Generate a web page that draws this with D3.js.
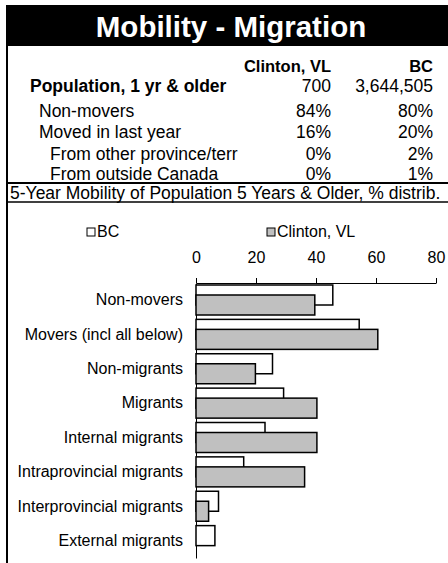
<!doctype html>
<html>
  <head>
    <script src="https://cdnjs.cloudflare.com/ajax/libs/d3/7.8.5/d3.min.js"></script>
    <style>
      body { margin: 0; background: #fff; }
      text { font-family: "Liberation Sans", Arial, sans-serif; }
    </style>
  </head>
  <body>
    <svg></svg>
    <script>
      var width = 448,
          height = 563;

      // table data
      var tableCols = ["Clinton, VL", "BC"];
      var tableRows = ["Population, 1 yr & older", "Non-movers", "Moved in last year", "From other province/terr", "From outside Canada"];
      var clintonTable = ["700", "84%", "16%", "0%", "0%"];
      var bcTable = ["3,644,505", "80%", "20%", "2%", "1%"];

      // chart data
      var categories = ["Non-movers", "Movers (incl all below)", "Non-migrants", "Migrants", "Internal migrants", "Intraprovincial migrants", "Interprovincial migrants", "External migrants"];
      var bcValues = [45.6, 54.4, 25.5, 29.2, 23.0, 15.9, 7.5, 6.3];
      var clintonValues = [39.6, 60.6, 19.8, 40.3, 40.3, 36.2, 4.2, 0];
      var xTicks = [0, 20, 40, 60, 80];

      var svg = d3.select("svg").attr("width", width).attr("height", height);

      // title
      svg.append("rect").attr("x", 6).attr("y", 5).attr("width", 442).attr("height", 41).attr("fill", "#000");
      svg.append("text").attr("x", 231).attr("y", 37).attr("text-anchor", "middle")
        .attr("fill", "#fff").attr("font-weight", "bold").attr("font-size", "29.5px")
        .text("Mobility - Migration");

      // borders
      svg.append("line").attr("x1", 7).attr("x2", 7).attr("y1", 46).attr("y2", height)
        .attr("stroke", "#000").attr("stroke-width", 2);
      svg.append("line").attr("x1", 6).attr("x2", 448).attr("y1", 183).attr("y2", 183)
        .attr("stroke", "#000").attr("stroke-width", 2);
      svg.append("line").attr("x1", 6).attr("x2", 448).attr("y1", 202).attr("y2", 202)
        .attr("stroke", "#000").attr("stroke-width", 1.5);

      // table
      var colX = [331, 433];
      var rowY = [92, 117, 138, 160, 180];
      var rowIndent = [30, 39, 39, 50, 50];
      svg.selectAll("text.colhead").data(tableCols).enter().append("text")
        .attr("class", "colhead")
        .attr("x", (d, i) => colX[i]).attr("y", 72)
        .attr("text-anchor", "end").attr("font-weight", "bold").attr("font-size", "16.5px")
        .text(d => d);
      svg.selectAll("text.rowlab").data(tableRows).enter().append("text")
        .attr("class", "rowlab")
        .attr("x", (d, i) => rowIndent[i]).attr("y", (d, i) => rowY[i])
        .attr("font-weight", (d, i) => i == 0 ? "bold" : "normal").attr("font-size", "17.5px")
        .text(d => d);
      [clintonTable, bcTable].forEach(function(col, c) {
        svg.selectAll("text.val" + c).data(col).enter().append("text")
          .attr("class", "val" + c)
          .attr("x", colX[c]).attr("y", (d, i) => rowY[i])
          .attr("text-anchor", "end").attr("font-size", "17.5px")
          .text(d => d);
      });

      // subtitle
      svg.append("text").attr("x", 10).attr("y", 199).attr("font-size", "17.5px")
        .text("5-Year Mobility of Population 5 Years & Older, % distrib.");

      // chart
      var x = d3.scaleLinear().domain([0, 80]).range([196, 436]);
      var y = d3.scaleBand().domain(categories).range([283, 558]);

      var xAxis = svg.append("g").attr("transform", "translate(0,283)")
        .call(d3.axisTop(x).tickValues(xTicks).tickSize(5).tickPadding(15).tickSizeOuter(0));
      xAxis.select(".domain").attr("stroke", "#000");
      xAxis.selectAll("text").attr("font-size", "16px").attr("font-family", "Liberation Sans, Arial, sans-serif").attr("fill", "#000");

      var yAxis = svg.append("g").attr("transform", "translate(196,0)")
        .call(d3.axisLeft(y).tickSize(0).tickPadding(13));
      yAxis.select(".domain").attr("stroke", "#000");
      yAxis.selectAll("text").attr("font-size", "16px").attr("font-family", "Liberation Sans, Arial, sans-serif").attr("fill", "#000");

      svg.append("g").selectAll("rect").data(categories).enter().append("rect")
        .attr("x", x(0)).attr("y", d => y(d) + 2)
        .attr("width", (d, i) => x(bcValues[i]) - x(0)).attr("height", 20)
        .attr("fill", "#fff").attr("stroke", "#000").attr("stroke-width", 1.5);
      svg.append("g").selectAll("rect").data(categories).enter().append("rect")
        .attr("x", x(0)).attr("y", d => y(d) + 12)
        .attr("width", (d, i) => x(clintonValues[i]) - x(0)).attr("height", 20)
        .attr("fill", "#c0c0c0").attr("stroke", "#000").attr("stroke-width", 1.5)
        .attr("display", (d, i) => clintonValues[i] > 0 ? null : "none");

      // legend
      var legend = [["BC", "#fff", 87], ["Clinton, VL", "#c0c0c0", 267]];
      legend.forEach(function(l) {
        svg.append("rect").attr("x", l[2]).attr("y", 228).attr("width", 8).attr("height", 8)
          .attr("fill", l[1]).attr("stroke", "#000").attr("stroke-width", 1);
        svg.append("text").attr("x", l[2] + 10).attr("y", 237).attr("font-size", "16px").text(l[0]);
      });
    </script>
  </body>
</html>
